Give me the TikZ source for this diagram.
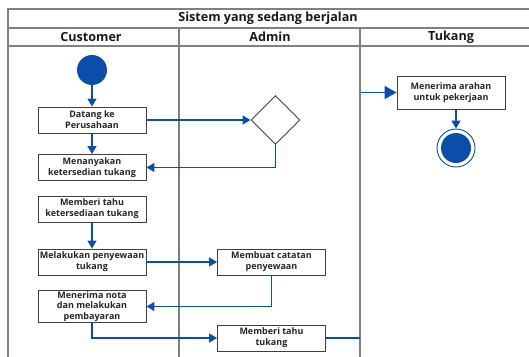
\documentclass[tikz,border=0pt]{standalone}
\usepackage{fontspec}
\setmainfont{Open Sans}
\usetikzlibrary{arrows.meta,shapes.geometric}
\definecolor{flowblue}{HTML}{0A4DAA}
\definecolor{lanegray}{HTML}{808080}
\tikzset{
  act/.style={draw=black!75,line width=0.9pt,fill=white,minimum width=108pt,minimum height=26pt,
    align=center,inner sep=1pt,font=\fontsize{9}{10.8}\selectfont\bfseries,text=black!85},
  flow/.style={draw=flowblue,line width=1.3pt,-{Triangle[length=8pt,width=9pt]}},
  bigflow/.style={draw=flowblue,line width=1.6pt,-{Triangle[length=12pt,width=13pt]}},
  lane/.style={draw=lanegray,line width=1.2pt},
  head/.style={font=\fontsize{12.6}{14}\selectfont\bfseries,text=black!90}
}
\begin{document}
\begin{tikzpicture}[x=1pt,y=-1pt]
\useasboundingbox (0,0) rectangle (529,356);
\clip (0,0) rectangle (529,356);
% swimlane frame
\draw[lane] (8,370) -- (8,9) -- (540,9);
\draw[lane] (8,28) -- (540,28);
\draw[lane] (8,46) -- (540,46);
\draw[lane] (179,28) -- (179,370);
\draw[lane] (360,28) -- (360,370);
\node[head] (judul) at (268,18.5) {Sistem yang sedang berjalan};
\node[head] (cust) at (91,37) {Customer};
\node[head] (admin) at (270,37) {Admin};
\node[head] (tukang) at (451,37) {Tukang};
% activities
\fill[flowblue] (92,70) circle (15) coordinate (mulai);
\node[circle,minimum size=30pt,inner sep=0] (start) at (92,70) {};
\node[act] (datang) at (92,120) {Datang ke\\Perusahaan};
\node[act] (tanya) at (92,167.5) {Menanyakan\\ketersedian tukang};
\node[act] (beri) at (92,209) {Memberi tahu\\ketersediaan tukang};
\node[act] (sewa) at (92,262) {Melakukan penyewaan\\tukang};
\node[act] (nota) at (92,306.5) {Menerima nota\\dan melakukan\\pembayaran};
\node[diamond,draw=black!75,line width=0.9pt,minimum width=49pt,minimum height=49pt,inner sep=0] (cek) at (275.5,120) {};
\node[act] (catat) at (271.5,262) {Membuat catatan\\penyewaan};
\node[act] (tahu) at (271.5,338) {Memberi tahu\\tukang};
\node[act,minimum height=33pt] (arahan) at (451,92.5) {Menerima arahan\\untuk pekerjaan};
\node[circle,draw=flowblue,line width=0.9pt,minimum size=38pt,inner sep=0] (selesai) at (456,148) {};
\fill[flowblue] (selesai.center) circle (15);
% flows
\draw[flow] (start) -- (datang);
\draw[flow] (datang) -- (tanya);
\draw[flow] (datang) -- (cek);
\draw[flow] (cek.south) |- (tanya.east);
\draw[flow] (beri) -- (sewa);
\draw[flow] (sewa) -- (catat);
\draw[flow] (catat.south) |- (nota.east);
\draw[flow] (nota.south) |- (tahu.west);
\coordinate (keluar) at (360,338);
\coordinate (masuk) at (361,92.5);
\draw[draw=flowblue,line width=1.3pt] (tahu.east) -- (keluar);
\draw[bigflow] (masuk) -- (arahan);
\draw[flow] (arahan.south -| selesai) -- (selesai);
\end{tikzpicture}
\end{document}
